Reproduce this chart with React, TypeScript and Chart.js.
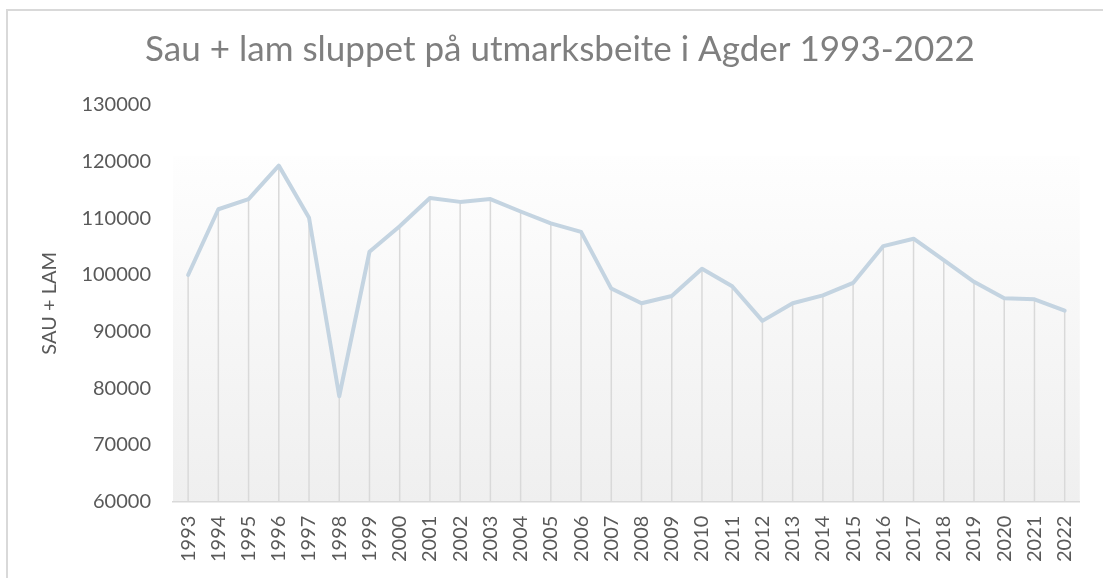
import React, { useEffect, useRef } from "react";
import { Chart, registerables } from "chart.js";

Chart.register(...registerables);

const TITLE = "Sau + lam sluppet på utmarksbeite i Agder 1993-2022";
const Y_TITLE = "SAU + LAM";
const years = [
  "1993", "1994", "1995", "1996", "1997", "1998", "1999", "2000", "2001", "2002",
  "2003", "2004", "2005", "2006", "2007", "2008", "2009", "2010", "2011", "2012",
  "2013", "2014", "2015", "2016", "2017", "2018", "2019", "2020", "2021", "2022",
];
const sheepAndLambs = [
  100000, 111600, 113400, 119300, 110100, 78600, 104100, 108600, 113600, 112900,
  113400, 111200, 109100, 107600, 97600, 95000, 96300, 101100, 98000, 91900,
  95000, 96400, 98600, 105100, 106400, 102600, 98800, 95900, 95700, 93700,
];
const Y_MIN = 60000;
const Y_MAX = 130000;
const Y_STEP = 10000;
const PLOT_FILL_TOP = 121000;

const FONT = "Lato, 'Open Sans', sans-serif";

const framePlugin = {
  id: "frame",
  beforeDraw(chart: any) {
    const ctx = chart.ctx;
    ctx.save();
    ctx.fillStyle = "#ffffff";
    ctx.fillRect(0, 0, chart.width, chart.height);
    ctx.strokeStyle = "#d9d9d9";
    ctx.lineWidth = 2;
    ctx.strokeRect(7, 10, chart.width + 20, chart.height + 20);
    const { left, right, bottom } = chart.chartArea;
    const yScale = chart.scales.y;
    const top = yScale.getPixelForValue(PLOT_FILL_TOP);
    const g = ctx.createLinearGradient(0, top, 0, bottom);
    g.addColorStop(0, "#fefefe");
    g.addColorStop(1, "#efefef");
    ctx.fillStyle = g;
    ctx.fillRect(left, top, right - left, bottom - top);
    ctx.restore();
  },
  beforeDatasetsDraw(chart: any) {
    const ctx = chart.ctx;
    const meta = chart.getDatasetMeta(0);
    const bottom = chart.chartArea.bottom;
    ctx.save();
    ctx.strokeStyle = "#d9d9d9";
    ctx.lineWidth = 1.5;
    meta.data.forEach((pt: any) => {
      ctx.beginPath();
      ctx.moveTo(pt.x, pt.y);
      ctx.lineTo(pt.x, bottom);
      ctx.stroke();
    });
    ctx.restore();
  },
};

export default function App() {
  const ref = useRef<HTMLCanvasElement | null>(null);
  useEffect(() => {
    if (!ref.current) return;
    const chart = new Chart(ref.current, {
      type: "line",
      data: {
        labels: years,
        datasets: [
          {
            data: sheepAndLambs,
            borderColor: "#c4d4e1",
            borderWidth: 4,
            pointRadius: 0,
            tension: 0,
            borderJoinStyle: "round",
            borderCapStyle: "round",
            fill: false,
          },
        ],
      },
      options: {
        animation: false,
        responsive: false,
        devicePixelRatio: 1,
        layout: { padding: { left: 36, right: 19, top: 0, bottom: 2 } },
        plugins: {
          legend: { display: false },
          tooltip: { enabled: false },
          title: {
            display: true,
            text: TITLE,
            color: "#7f7f7f",
            font: { family: FONT, size: 35, weight: "normal" },
            padding: { top: 29, bottom: 34 },
          },
        },
        scales: {
          x: {
            offset: true,
            grid: { display: true, color: "rgba(0,0,0,0)", drawTicks: false, offset: true },
            border: { display: true, color: "#d9d9d9", width: 1.5 },
            ticks: {
              color: "#595959",
              font: { family: FONT, size: 20 },
              maxRotation: 90,
              minRotation: 90,
              padding: 14,
              autoSkip: false,
            },
          },
          y: {
            min: Y_MIN,
            max: Y_MAX,
            grid: { display: false, drawTicks: false },
            border: { display: false },
            ticks: {
              stepSize: Y_STEP,
              color: "#595959",
              font: { family: FONT, size: 20 },
              padding: 22,
              callback: (v: any) => String(v),
            },
            title: {
              display: true,
              text: Y_TITLE,
              color: "#595959",
              font: { family: FONT, size: 20 },
              padding: { top: 2, bottom: 0 },
            },
            afterFit(scale: any) {
              scale.width = 137;
            },
          },
        },
      },
      plugins: [framePlugin],
    });
    return () => chart.destroy();
  }, []);
  return (
    <div style={{ position: "absolute", left: 0, top: 0, width: 1103, height: 578 }}>
      <canvas ref={ref} width={1103} height={578} style={{ display: "block" }} />
    </div>
  );
}
